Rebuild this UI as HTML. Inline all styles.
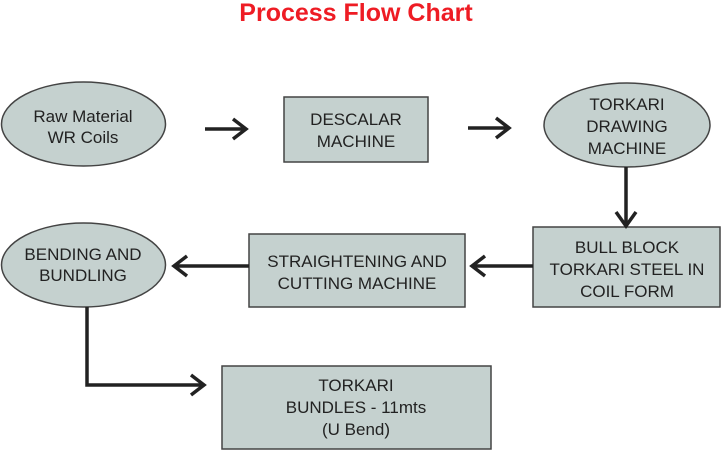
<!DOCTYPE html>
<html><head><meta charset="utf-8"><style>
html,body{margin:0;padding:0;background:#fff;}
svg{display:block}
text{font-family:"Liberation Sans",Arimo,Arial,Helvetica,sans-serif;fill:#222;font-size:17px;text-anchor:middle}
</style></head><body>
<svg width="721" height="450" viewBox="0 0 721 450">
<text x="356" y="21" style="font-size:25px;font-weight:bold;fill:#ee1c24">Process Flow Chart</text>
<g fill="#c5d1cf" stroke="#444" stroke-width="1.5">
<ellipse cx="83.5" cy="124" rx="82" ry="42"/>
<rect x="284" y="97" width="144" height="65"/>
<ellipse cx="627" cy="125" rx="83" ry="42"/>
<rect x="533" y="227" width="187" height="80"/>
<rect x="249" y="234" width="216" height="73"/>
<ellipse cx="83.5" cy="265" rx="82" ry="42"/>
<rect x="222" y="366" width="269" height="83"/>
</g>
<g fill="none" stroke="#222" stroke-width="3.5">
<path d="M205 129H246M233 119L246 129L233 139"/>
<path d="M468 128H509M496 118L509 128L496 138"/>
<path d="M626 167V226M616 212L626 226L636 212"/>
<path d="M533 266H472M485 256L472 266L485 276"/>
<path d="M249 266H174M187 256L174 266L187 276"/>
<path d="M87 307V385H204M191 375L204 385L191 395"/>
</g>
<text x="83" y="122">Raw Material</text><text x="83" y="143">WR Coils</text>
<text x="356" y="125">DESCALAR</text><text x="356" y="147">MACHINE</text>
<text x="627" y="110">TORKARI</text><text x="627" y="132">DRAWING</text><text x="627" y="154">MACHINE</text>
<text x="627" y="253">BULL BLOCK</text><text x="627" y="275">TORKARI STEEL IN</text><text x="627" y="297">COIL FORM</text>
<text x="357" y="267">STRAIGHTENING AND</text><text x="357" y="289">CUTTING MACHINE</text>
<text x="83" y="260">BENDING AND</text><text x="83" y="281">BUNDLING</text>
<text x="356" y="391">TORKARI</text><text x="356" y="413">BUNDLES - 11mts</text><text x="356" y="435">(U Bend)</text>
</svg>
</body></html>
